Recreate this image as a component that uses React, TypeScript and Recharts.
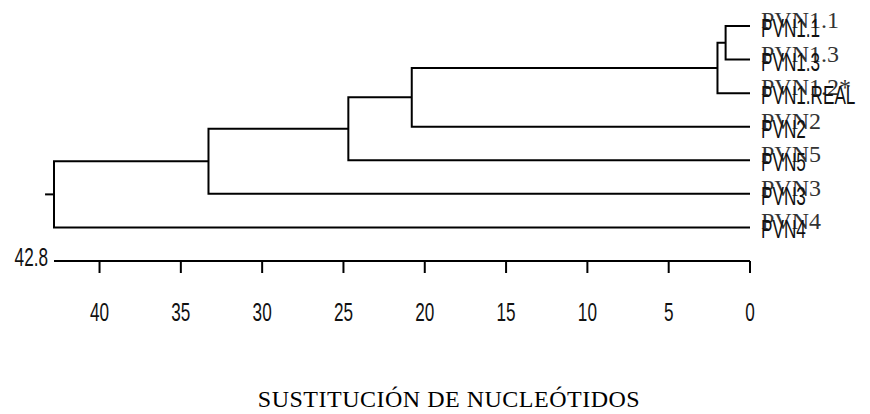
import { LineChart, Line, XAxis, YAxis, ReferenceLine, Label } from 'recharts'

// leaf order top -> bottom
const leafLabels = ['PVN1.1', 'PVN1.3', 'PVN1.2*', 'PVN2', 'PVN5', 'PVN3', 'PVN4']
const leafAltLabels = ['PVN1.1', 'PVN1.3', 'PVN1.REAL', 'PVN2', 'PVN5', 'PVN3', 'PVN4']

// hclust style merges: negative = leaf (1-based), positive = earlier merge step
const mergeLeft = [-1, 1, 2, 3, 4, 5]
const mergeRight = [-2, -3, -4, -5, -6, -7]
const mergeHeights = [1.5, 2.0, 20.8, 24.7, 33.3, 42.8]

const xTicks = [0, 5, 10, 15, 20, 25, 30, 35, 40]
const rootStub = 0.55
const axisTitle = 'SUSTITUCIÓN DE NUCLEÓTIDOS'

const rootHeight = mergeHeights[mergeHeights.length - 1]
const sans = "'Liberation Sans', Arial, sans-serif"
const serif = "'Liberation Serif', 'Times New Roman', serif"

// build the U-shaped link for every merge
const mergeY: number[] = []
const nodeOf = (ref: number) =>
  ref < 0 ? { h: 0, y: -ref - 1 } : { h: mergeHeights[ref - 1], y: mergeY[ref - 1] }

const links = mergeHeights.map((h, i) => {
  const a = nodeOf(mergeLeft[i])
  const b = nodeOf(mergeRight[i])
  mergeY[i] = (a.y + b.y) / 2
  return [
    { x: a.h, y: a.y },
    { x: h, y: a.y },
    { x: h, y: b.y },
    { x: b.h, y: b.y },
  ]
})
const rootY = mergeY[mergeY.length - 1]

// no narrow font installed: squeeze Liberation Sans horizontally
const Narrow = ({ x, y, anchor = 'start', children }: any) => (
  <text
    transform={`translate(${x} ${y}) scale(0.66 1)`}
    textAnchor={anchor}
    fontFamily={sans}
    fontSize={26}
    fill="#111"
  >
    {children}
  </text>
)

const XTick = ({ x, y, payload }: any) => {
  if (payload.value === rootHeight) {
    return <Narrow x={x - 6} y={y + 5} anchor="end">{rootHeight}</Narrow>
  }
  return (
    <g>
      <line x1={x} x2={x} y1={y} y2={y + 12} stroke="#000" strokeWidth={2} />
      <Narrow x={x} y={y + 60} anchor="middle">{payload.value}</Narrow>
    </g>
  )
}

const YTick = ({ x, y, payload }: any) => (
  <g>
    <text x={x + 11} y={y + 2} fontFamily={serif} fontSize={24} fill="#333">
      {leafLabels[payload.value]}
    </text>
    <Narrow x={x + 11} y={y + 11}>{leafAltLabels[payload.value]}</Narrow>
  </g>
)

const Title = ({ viewBox }: any) => (
  <text
    x={viewBox.x + viewBox.width / 2 + 47}
    y={viewBox.y + 146}
    textAnchor="middle"
    fontFamily={serif}
    fontSize={24}
    letterSpacing={0.5}
    fill="#000"
  >
    {axisTitle}
  </text>
)

export default function App() {
  return (
    <div style={{ position: 'absolute', left: 0, top: 0, width: 870, height: 414, background: '#fff' }}>
      <LineChart width={870} height={414} margin={{ top: 26, right: 0, bottom: 0, left: 54 }}>
        <XAxis
          type="number"
          dataKey="x"
          domain={[0, rootHeight]}
          reversed
          ticks={[...xTicks, rootHeight]}
          interval={0}
          tick={<XTick />}
          tickLine={false}
          tickSize={0}
          tickMargin={0}
          axisLine={{ stroke: '#000', strokeWidth: 2 }}
          height={153}
        >
          <Label content={<Title />} />
        </XAxis>
        <YAxis
          type="number"
          orientation="right"
          domain={[0, leafLabels.length]}
          reversed
          ticks={leafLabels.map((_, i) => i)}
          interval={0}
          tick={<YTick />}
          tickLine={false}
          tickSize={0}
          tickMargin={0}
          axisLine={false}
          width={120}
        />
        {links.map((pts, i) => (
          <Line
            key={i}
            data={pts}
            dataKey="y"
            type="linear"
            stroke="#000"
            strokeWidth={2}
            dot={false}
            activeDot={false}
            isAnimationActive={false}
          />
        ))}
        <ReferenceLine
          segment={[
            { x: rootHeight, y: rootY },
            { x: rootHeight + rootStub, y: rootY },
          ]}
          ifOverflow="visible"
          stroke="#000"
          strokeWidth={2}
        />
      </LineChart>
    </div>
  )
}
